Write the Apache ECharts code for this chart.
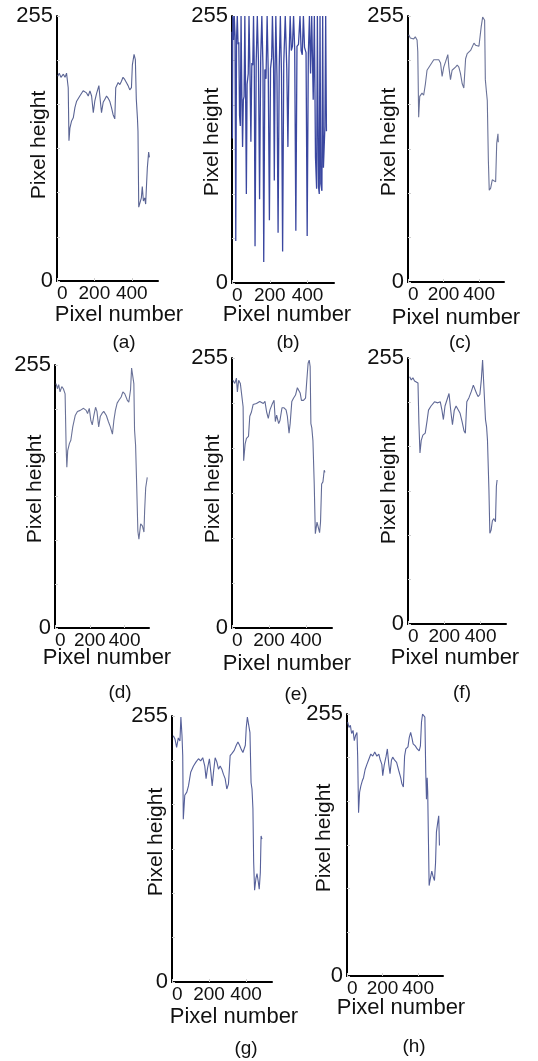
<!DOCTYPE html>
<html><head><meta charset="utf-8">
<script src="https://cdn.jsdelivr.net/npm/echarts@6/dist/echarts.min.js"></script>
<style>html,body{margin:0;padding:0;background:#fff}#c{width:538px;height:1061px}</style>
</head><body><div id="c"></div>
<script>
// ---- data ----
const captions = ['(a)', '(b)', '(c)', '(d)', '(e)', '(f)', '(g)', '(h)'];
const xTickLabels = [0, 200, 400];
const yTickLabels = [0, 255];
const xName = 'Pixel number';
const yName = 'Pixel height';

const profileA = [[4,197],[12,200],[21,196],[34,199],[43,196],[51,200],[60,186],[64,135],[69,147],[78,154],[87,157],[96,167],[105,173],[122,178],[140,183],[158,181],[167,178],[176,183],[185,178],[194,162],[202,173],[211,180],[224,188],[229,178],[238,162],[247,172],[256,175],[265,178],[273,176],[282,173],[291,167],[300,160],[309,156],[314,186],[327,191],[336,189],[344,192],[353,196],[362,194],[371,191],[380,188],[389,184],[398,186],[403,208],[412,218],[419,213],[424,175],[430,157],[433,144],[437,71],[442,72],[451,80],[456,91],[462,77],[469,80],[474,74],[478,90],[483,109],[490,124],[494,119]];

const profileB = [[0,240],[2,138],[4,255],[8,232],[12,255],[16,236],[20,40],[24,232],[28,255],[32,228],[36,230],[40,160],[44,150],[48,255],[52,180],[56,130],[60,175],[64,178],[68,255],[72,182],[76,85],[80,190],[86,200],[90,255],[95,205],[100,135],[105,210],[110,208],[114,255],[118,205],[122,35],[128,210],[134,255],[140,212],[146,80],[152,215],[158,255],[164,206],[168,20],[174,204],[180,195],[186,255],[192,200],[198,60],[204,205],[210,215],[214,255],[220,210],[224,98],[228,200],[232,255],[238,198],[244,48],[250,206],[256,255],[262,200],[268,30],[274,210],[282,255],[290,205],[296,130],[302,215],[308,255],[314,222],[320,226],[326,255],[332,223],[338,50],[344,226],[352,228],[360,255],[366,222],[372,218],[378,255],[384,225],[392,220],[398,45],[404,218],[410,255],[416,200],[422,255],[430,175],[436,255],[442,120],[448,90],[452,255],[458,92],[462,85],[466,255],[470,95],[476,88],[480,255],[484,110],[488,130],[492,150],[496,255],[500,145]];

const profileC = [[4,237],[13,234],[23,235],[32,233],[41,235],[51,232],[55,221],[60,158],[66,178],[79,181],[88,179],[98,190],[107,203],[126,208],[145,213],[173,213],[183,210],[192,197],[201,206],[211,211],[224,218],[230,206],[239,194],[248,203],[258,202],[267,206],[277,208],[286,206],[295,200],[305,190],[314,186],[324,214],[333,219],[352,222],[371,229],[380,227],[399,226],[408,226],[412,245],[420,254],[431,251],[435,194],[442,181],[446,174],[452,117],[457,88],[465,90],[474,98],[484,99],[493,96],[499,133],[506,142],[508,134]];

const profileD = [[6,237],[14,232],[21,236],[29,229],[39,234],[48,232],[58,227],[64,175],[68,156],[73,172],[83,179],[91,182],[102,195],[116,206],[129,210],[145,211],[164,213],[179,211],[187,208],[197,213],[206,201],[214,197],[222,205],[233,214],[241,210],[251,195],[260,205],[270,208],[280,210],[295,206],[307,200],[318,195],[330,188],[338,201],[347,211],[357,218],[368,221],[380,224],[390,229],[401,227],[415,221],[424,219],[434,231],[440,252],[448,253],[453,237],[457,192],[463,177],[469,140],[476,94],[482,86],[492,101],[502,99],[511,93],[515,114],[521,136],[530,146]];

const profileE = [[5,234],[15,231],[24,236],[29,223],[36,234],[45,231],[53,231],[60,209],[63,158],[71,174],[78,179],[89,181],[96,200],[105,204],[114,211],[132,212],[150,214],[169,212],[178,214],[187,204],[196,198],[205,206],[216,211],[227,215],[234,195],[241,201],[252,193],[259,196],[270,208],[281,208],[292,206],[299,200],[308,184],[314,193],[323,214],[332,217],[343,220],[353,227],[361,228],[368,222],[375,215],[386,215],[397,217],[404,234],[411,250],[417,253],[422,247],[426,193],[431,189],[437,177],[444,136],[450,89],[459,100],[466,101],[473,90],[478,100],[484,136],[491,138],[498,149],[502,147]];

const profileF = [[9,237],[18,234],[27,236],[36,233],[46,234],[55,231],[60,193],[66,164],[73,176],[82,181],[95,183],[106,196],[113,205],[127,209],[146,213],[164,212],[178,213],[187,205],[195,196],[204,209],[215,210],[226,221],[236,204],[245,191],[255,205],[265,209],[276,210],[287,202],[298,194],[309,185],[316,183],[324,213],[336,217],[349,223],[360,229],[369,228],[378,221],[386,218],[396,220],[404,234],[411,253],[422,252],[427,196],[433,189],[438,176],[446,128],[451,87],[458,90],[465,99],[473,101],[482,98],[487,132],[491,138]];

const profileG = [[7,236],[16,233],[25,225],[34,234],[43,231],[48,254],[54,236],[58,217],[61,156],[69,179],[80,182],[89,188],[101,201],[116,207],[130,211],[143,214],[155,212],[166,215],[177,207],[184,195],[191,204],[202,214],[210,201],[217,188],[224,201],[233,215],[242,211],[251,204],[260,207],[269,204],[278,199],[287,195],[296,185],[305,190],[314,217],[323,219],[336,222],[347,227],[356,230],[365,227],[374,223],[383,220],[390,219],[396,227],[401,244],[407,254],[416,254],[421,239],[427,191],[432,185],[437,166],[441,115],[446,88],[453,99],[459,104],[466,96],[471,89],[477,105],[481,140],[486,137]];

const profileH = [[4,247],[11,242],[19,244],[26,236],[34,239],[41,229],[48,234],[56,237],[60,214],[65,159],[71,179],[78,185],[86,190],[93,193],[102,201],[112,206],[123,211],[134,216],[145,214],[156,218],[168,214],[179,216],[186,211],[196,206],[201,195],[209,205],[220,214],[227,221],[235,206],[242,197],[250,210],[257,213],[268,210],[279,208],[291,200],[302,193],[309,187],[317,184],[324,214],[331,221],[343,223],[350,232],[358,237],[365,232],[372,226],[384,224],[395,221],[406,219],[413,224],[419,247],[425,255],[432,255],[438,252],[443,198],[447,172],[451,193],[454,179],[458,133],[462,88],[470,96],[477,102],[484,97],[492,93],[498,110],[503,140],[510,149],[516,156],[520,127]];

const profiles = [profileA, profileB, profileC, profileD, profileE, profileF, profileG, profileH];

// ---- layout (style) ----
const layout = [
  {left:57,  top:16,  width:101, height:265, yn:[39,145],  xn:[119,315],  cap:[124,343]},
  {left:232, top:16,  width:102, height:267, yn:[212,142], xn:[287,315],  cap:[288,343]},
  {left:408, top:16,  width:96,  height:266, yn:[389,142], xn:[456,318],  cap:[460,343]},
  {left:55,  top:365, width:94,  height:263, yn:[35,489],  xn:[107,658],  cap:[120,693]},
  {left:232, top:358, width:100, height:270, yn:[213,489], xn:[287,664],  cap:[296,695]},
  {left:408, top:358, width:98,  height:266, yn:[389,490], xn:[455,658],  cap:[462,693]},
  {left:172, top:716, width:100, height:266, yn:[156,842], xn:[234,1017], cap:[246,1049]},
  {left:347, top:714, width:96,  height:262, yn:[324,838], xn:[401,1008], cap:[414,1047]}
];
const lineColors = ['#5a6494','#3a47a0','#6a7298','#6a7298','#626b96','#5f6896','#56609a','#56609a'];

const FONT = 'Liberation Sans, Arial, sans-serif';
const grid = [], xAxis = [], yAxis = [], series = [], graphic = [];
layout.forEach((g, i) => {
  grid.push({left:g.left, top:g.top, width:g.width, height:g.height, containLabel:false});
  xAxis.push({
    gridIndex:i, type:'value', min:0, max:540, interval:200,
    axisLine:{show:true, onZero:false, lineStyle:{color:'#000', width:2}},
    axisTick:{show:true, inside:true, length:3, lineStyle:{color:'#d0d0d0'}},
    splitLine:{show:false},
    axisLabel:{fontSize:19, fontFamily:FONT, color:'#111', margin:3, alignMinLabel:'left',
      showMaxLabel:false, formatter:v => xTickLabels.includes(v) ? String(v) : ''}
  });
  yAxis.push({
    gridIndex:i, type:'value', min:0, max:255, interval:42.5,
    axisLine:{show:true, onZero:false, lineStyle:{color:'#000', width:2}},
    axisTick:{show:true, inside:true, length:3, lineStyle:{color:'#d0d0d0'}},
    splitLine:{show:false},
    axisLabel:{fontSize:22, fontFamily:FONT, color:'#111', margin:4,
      formatter:v => yTickLabels.includes(v) ? String(v) : ''}
  });
  series.push({
    type:'line', xAxisIndex:i, yAxisIndex:i, data:profiles[i],
    symbol:'none', showSymbol:false, animation:false,
    lineStyle:{color:lineColors[i], width: i === 1 ? 1.3 : 1.1}
  });
  graphic.push({type:'text', x:g.yn[0], y:g.yn[1], rotation:Math.PI/2,
    style:{text:yName, fontSize:21, fontFamily:FONT, fill:'#111', align:'center', verticalAlign:'middle'}});
  graphic.push({type:'text', x:g.xn[0], y:g.xn[1],
    style:{text:xName, fontSize:22, fontFamily:FONT, fill:'#111', align:'center', verticalAlign:'middle'}});
  graphic.push({type:'text', x:g.cap[0], y:g.cap[1],
    style:{text:captions[i], fontSize:19, fontFamily:FONT, fill:'#111', align:'center', verticalAlign:'middle'}});
});

const chart = echarts.init(document.getElementById('c'), null, {renderer:'canvas'});
chart.setOption({backgroundColor:'#fff', animation:false, grid, xAxis, yAxis, series, graphic});
</script></body></html>
